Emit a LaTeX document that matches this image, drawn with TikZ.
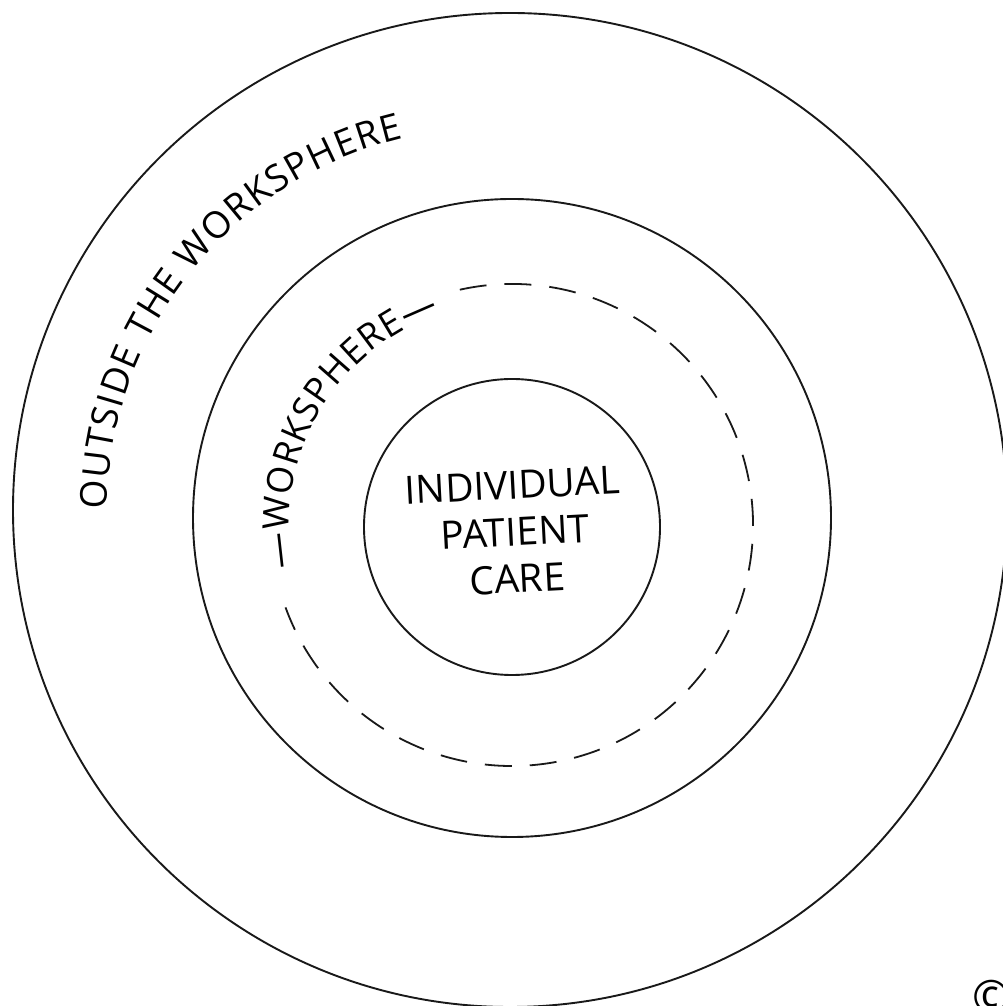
\documentclass[tikz,border=0pt]{standalone}
\usepackage{fontspec}
\setmainfont{Open Sans}
\usetikzlibrary{decorations.text}
\begin{document}
\begin{tikzpicture}[x=1pt,y=1pt,
  ring/.style={line width=1.9pt, black!90},
  dashring/.style={line width=1.8pt, black!90, dash pattern=on 27pt off 18pt},
  lbl/.style={font=\fontsize{39}{47}\selectfont, align=center, inner sep=0pt}]
\useasboundingbox (0,0) rectangle (1002,1006);
\fill[white] (0,0) rectangle (1002,1006);
\coordinate (co) at (510,496);
\coordinate (cm) at (512,488);
\coordinate (cd) at (512,481);
\coordinate (ci) at (512,479);
\coordinate (ct) at (492,493);
\draw[ring] (co) circle[radius=497];
\draw[ring] (cm) circle[radius=319];
\draw[ring] (ci) circle[radius=148];
\draw[dashring] (cd) ++(102.5:241) arc[start angle=102.5, end angle=-160, radius=241];
\path[decorate, decoration={text along path, text={|\fontsize{37}{37}\selectfont|OUTSIDE THE WORKSPHERE}, text align={fit to path}}] (ct) ++(179.5:385) arc[start angle=179.5, end angle=103.3, radius=385];
\path[decorate, decoration={text along path, text={|\fontsize{36}{36}\selectfont|—WORKSPHERE—}, text align={fit to path}}] (cd) ++(191:223) arc[start angle=191, end angle=109, radius=223];
\node[lbl, rotate=3] (care) at (515,474) {INDIVIDUAL\\PATIENT\\CARE};
\node[font=\fontsize{46}{46}\selectfont, inner sep=0pt] (copy) at (992,9) {©};
\end{tikzpicture}
\end{document}
